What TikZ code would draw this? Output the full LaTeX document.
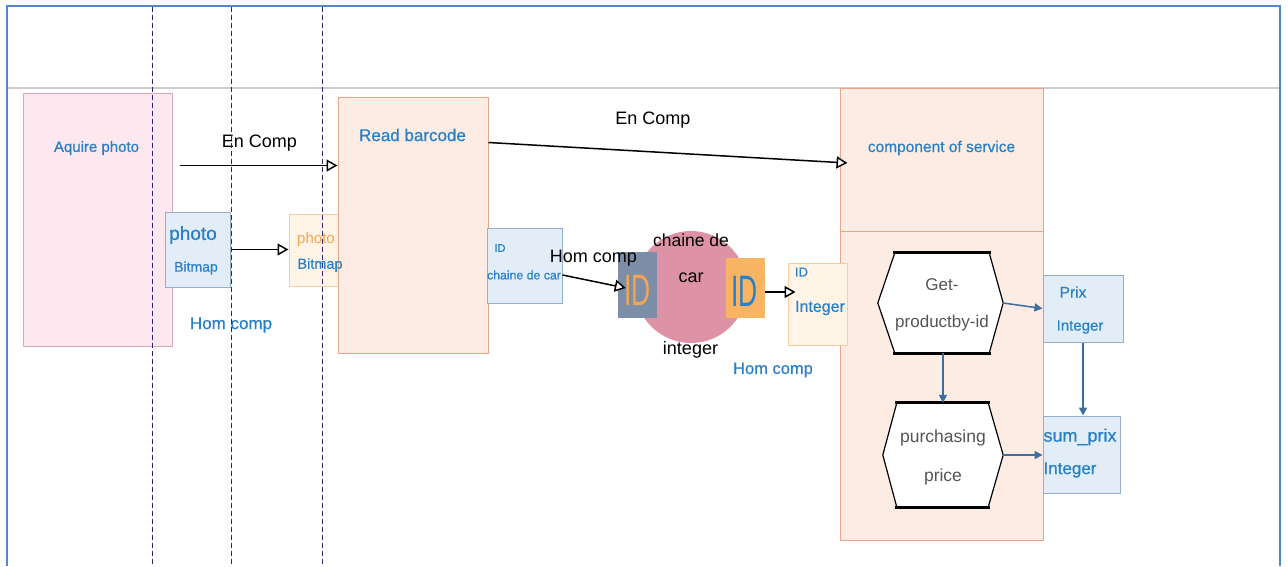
\documentclass[tikz,border=0pt]{standalone}
\usepackage{fontspec}
\setmainfont{Liberation Sans}
\newfontfamily\bluefont[FakeBold=0.6]{Liberation Sans}
\usetikzlibrary{arrows.meta,calc}
\definecolor{bordblue}{RGB}{85,135,200}
\definecolor{lblue}{RGB}{40,128,200}
\definecolor{pinkfill}{RGB}{252,232,238}
\definecolor{pinkdraw}{RGB}{215,170,180}
\definecolor{peachfill}{RGB}{252,236,228}
\definecolor{peachdraw}{RGB}{232,165,140}
\definecolor{bluefill}{RGB}{226,237,248}
\definecolor{bluedraw}{RGB}{150,175,200}
\definecolor{orfill}{RGB}{255,244,230}
\definecolor{ordraw}{RGB}{250,205,160}
\definecolor{sqgray}{RGB}{125,143,168}
\definecolor{circpink}{RGB}{222,146,166}
\definecolor{sqorange}{RGB}{248,180,98}
\definecolor{ortext}{RGB}{245,165,80}
\definecolor{dashcol}{RGB}{45,35,115}
\definecolor{steel}{RGB}{60,110,160}
\definecolor{hextext}{RGB}{85,85,85}
\definecolor{gridgray}{RGB}{205,205,205}
\newcommand\myfs[1]{\fontsize{#1}{#1}\selectfont}
\begin{document}
\begin{tikzpicture}[x=1pt,y=-1pt,
  box/.style={rectangle, inner sep=0pt, line width=1pt},
  pinkbox/.style={box, fill=pinkfill, draw=pinkdraw},
  peachbox/.style={box, fill=peachfill, draw=peachdraw},
  bluebox/.style={box, fill=bluefill, draw=bluedraw},
  orbox/.style={box, fill=orfill, draw=ordraw},
  bt/.style={inner sep=0pt, text=lblue, execute at begin node=\bluefont},
  kt/.style={inner sep=0pt, text=black},
  ht/.style={inner sep=0pt, text=hextext},
  hexnode/.style={rectangle, inner sep=0pt},
  hexside/.style={draw=black, fill=white, line width=1.2pt},
  hexedge/.style={line width=3pt, line cap=rect},
  enarrow/.style={draw=black, line width=1.5pt, -{Triangle[open,length=11pt,width=12pt,fill=white]}},
  starrow/.style={draw=steel, line width=1.5pt, -{Triangle[length=8pt,width=8pt]}},
  dashline/.style={draw=dashcol, line width=1pt, dash pattern=on 5pt off 3pt}
]
\useasboundingbox (0,0) rectangle (1288,566);
\fill[white] (0,0) rectangle (1288,566);

% frame
\draw[bordblue, line width=2pt] (7,566) -- (7,6) -- (1280,6) -- (1280,566);
\draw[gridgray, line width=1.5pt] (8,88) -- (1279,88);

% boxes
\node[pinkbox, minimum width=149pt, minimum height=253pt] (aquire) at (97.5,219.5) {};
\node[orbox, minimum width=50pt, minimum height=72pt] (photoB) at (314,250) {};
\node[peachbox, minimum width=150pt, minimum height=256pt] (read) at (413,225) {};
\node[peachbox, minimum width=203pt, minimum height=143pt] (comp) at (941.5,159.5) {};
\node[peachbox, minimum width=203pt, minimum height=309pt] (lower) at (941.5,385.5) {};
\node[bluebox, minimum width=65pt, minimum height=75pt] (photoA) at (197.5,249.5) {};
\node[bluebox, minimum width=75pt, minimum height=75pt] (idcar) at (524.5,265.5) {};
\node[orbox, minimum width=59pt, minimum height=82pt] (idint) at (817.5,304) {};
\node[bluebox, minimum width=80pt, minimum height=67pt] (prix) at (1083,308.5) {};
\node[bluebox, minimum width=77pt, minimum height=77pt] (sum) at (1081.5,454.5) {};

% circle and ID squares
\node[circle, fill=circpink, minimum size=112pt, inner sep=0pt] (circ) at (691,287) {};
\node[rectangle, fill=sqgray, minimum width=39pt, minimum height=66pt, inner sep=0pt] (idg) at (637.5,285) {};
\node[rectangle, fill=sqorange, minimum width=39pt, minimum height=60pt, inner sep=0pt] (ido) at (745.5,288) {};

% hexagons
\node[hexnode, minimum width=125pt, minimum height=100pt] (get) at (940.5,303) {};
\draw[hexside] (get.west) -- ($(get.north west)+(17,0)$) -- ($(get.north east)+(-14,0)$) -- (get.east)
  -- ($(get.south east)+(-14,0)$) -- ($(get.south west)+(17,0)$) -- cycle;
\draw[hexedge] ($(get.north west)+(17,0)$) -- ($(get.north east)+(-14,0)$);
\draw[hexedge] ($(get.south west)+(17,0)$) -- ($(get.south east)+(-14,0)$);
\node[hexnode, minimum width=120pt, minimum height=104pt] (purch) at (943,455) {};
\draw[hexside] (purch.west) -- ($(purch.north west)+(14,0)$) -- ($(purch.north east)+(-15,0)$) -- (purch.east)
  -- ($(purch.south east)+(-15,0)$) -- ($(purch.south west)+(14,0)$) -- cycle;
\draw[hexedge] ($(purch.north west)+(14,0)$) -- ($(purch.north east)+(-15,0)$);
\draw[hexedge] ($(purch.south west)+(14,0)$) -- ($(purch.south east)+(-15,0)$);

% texts
\node[bt, font=\myfs{15}] (taq) at (96.5,148) {Aquire photo};
\node[kt, font=\myfs{18}] (ten1) at (259.5,143) {En Comp};
\node[bt, font=\myfs{19}] (tphA) at (193,235) {photo};
\node[bt, font=\myfs{14}] (tbmA) at (196,268) {Bitmap};
\node[inner sep=0pt, text=ortext, font=\myfs{15}] (tphB) at (316,240) {photo};
\node[bt, font=\myfs{14.5}] (tbmB) at (320,265) {Bitmap};
\node[bt, font=\myfs{17}] (thc1) at (231,325) {Hom comp};
\node[bt, font=\myfs{17}] (tread) at (412.5,135) {Read barcode};
\node[kt, font=\myfs{18}] (ten2) at (653,120) {En Comp};
\node[bt, font=\myfs{11}] (tid1) at (500,248) {ID};
\node[bt, font=\myfs{12.3}] (tcdc) at (524,275) {chaine de car};
\node[kt, font=\myfs{18}] (thc2) at (593.5,258) {Hom comp};
\node[inner sep=0pt, text=ortext, font=\myfs{44}] (tidg) at (637.5,290) {\scalebox{0.6}[1]{ID}};
\node[inner sep=0pt, text=lblue, font=\myfs{44}] (tido) at (744.5,291) {\scalebox{0.6}[1]{ID}};
\node[kt, font=\myfs{17.5}] (tch) at (691,240) {chaine de};
\node[kt, font=\myfs{18}] (tcar) at (691,278) {car};
\node[kt, font=\myfs{18}] (tint) at (690.5,350) {integer};
\node[bt, font=\myfs{13}] (tid2) at (801.5,272) {ID};
\node[bt, font=\myfs{16}] (tint2) at (820,308) {Integer};
\node[bt, font=\myfs{16.5}] (thc3) at (773,370) {Hom comp};
\node[bt, font=\myfs{15.5}] (tcomp) at (941.5,148) {component of service};
\node[ht, font=\myfs{17}] (tget1) at (942,285) {Get-};
\node[ht, font=\myfs{17}] (tget2) at (942,323) {productby-id};
\node[ht, font=\myfs{17.5}] (tpur1) at (943,438) {purchasing};
\node[ht, font=\myfs{17.5}] (tpur2) at (943,477) {price};
\node[bt, font=\myfs{15.5}] (tprix) at (1073,292) {Prix};
\node[bt, font=\myfs{15}] (tprixi) at (1080,327) {Integer};
\node[bt, font=\myfs{18}] (tsum) at (1080,437) {sum\_prix};
\node[bt, font=\myfs{17}] (tsumi) at (1070,470) {Integer};

% connectors
\draw[enarrow] ($(aquire.north east)+(7,73)$) -- ($(read.north west)+(0,69)$);
\draw[enarrow] ($(read.north east)+(0,46)$) -- ($(comp.west)+(8,3.5)$);
\draw[enarrow] (photoA.east) -- (photoA.east -| photoB.west);
\draw[enarrow] ($(idcar.east)+(0,9.5)$) -- ($(idg.west)+(8,3)$);
\draw[enarrow] ($(ido.east)+(0,4)$) -- ($(idint.west |- ido.east)+(8,4)$);
\draw[starrow] (get.east) -- (prix.west);
\draw[starrow] (purch.north |- get.south) -- (purch.north);
\draw[starrow] (prix.south) -- (prix.south |- sum.north);
\draw[starrow] (purch.east) -- (purch.east -| sum.west);

% dashed lifelines
\draw[dashline] (152,7) -- (152,566);
\draw[dashline] (231,7) -- (231,566);
\draw[dashline] (322,7) -- (322,566);
\end{tikzpicture}
\end{document}
